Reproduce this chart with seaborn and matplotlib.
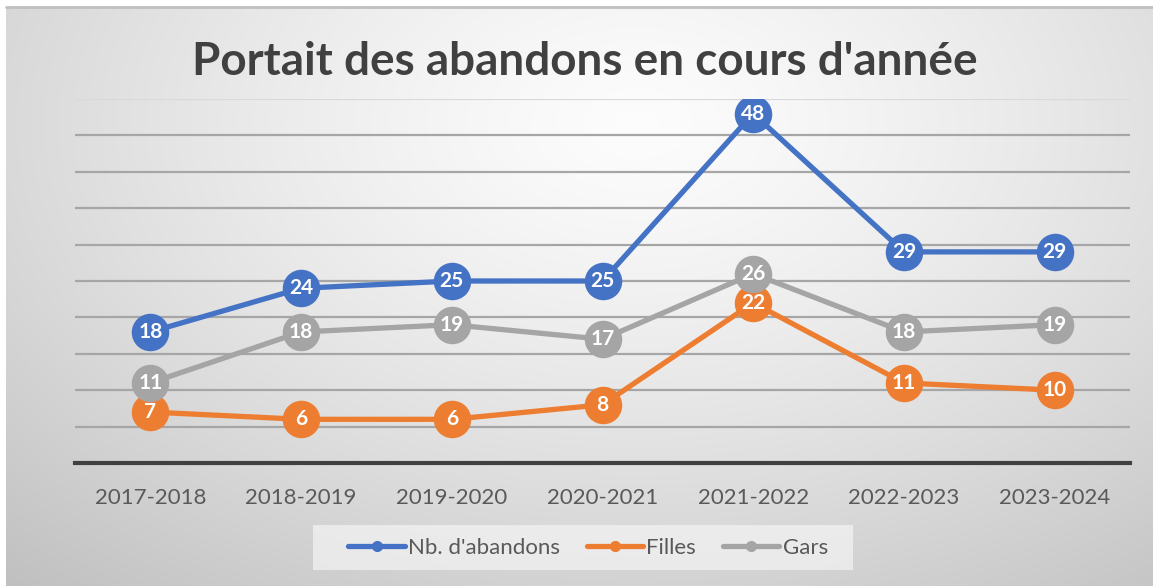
import numpy as np
import pandas as pd
import matplotlib
matplotlib.use("Agg")
import matplotlib.pyplot as plt
import seaborn as sns
from matplotlib.lines import Line2D
from matplotlib.patches import Rectangle

years = ["2017-2018", "2018-2019", "2019-2020", "2020-2021", "2021-2022", "2022-2023", "2023-2024"]
abandons = [18, 24, 25, 25, 48, 29, 29]
filles = [7, 6, 6, 8, 22, 11, 10]
gars = [11, 18, 19, 17, 26, 18, 19]
series_names = ["Nb. d'abandons", "Filles", "Gars"]
colors = ["#4472C4", "#ED7D31", "#A5A5A5"]
title = "Portait des abandons en cours d'année"

sns.set_theme(style="white")
plt.rcParams['font.family'] = ['Lato', 'DejaVu Sans']

df = pd.DataFrame({
    "year": years * 3,
    "x": list(range(len(years))) * 3,
    "value": abandons + filles + gars,
    "series": [series_names[0]] * 7 + [series_names[1]] * 7 + [series_names[2]] * 7,
})

W, H = 1153, 586
fig = plt.figure(figsize=(W / 100, H / 100), dpi=100)
fig.patch.set_facecolor("white")

# background radial gradient
bg = fig.add_axes([6 / W, 0, 1 - 6 / W, 1 - 7 / H])
bg.set_axis_off()
yy, xx = np.mgrid[0:300, 0:600]
cx, cy = 330, 60
r = np.sqrt(((xx - cx) / 600) ** 2 + ((yy - cy) / 380) ** 2)
val = 0.99 - 0.30 * np.clip(r, 0, 1) ** 1.3
img = np.dstack([val, val, val])
bg.imshow(img, aspect="auto", extent=[0, 1, 0, 1], origin="upper")
bg.set_xlim(0, 1)
bg.set_ylim(0, 1)
bg.plot([0, 1], [1, 1], color="#bfbfbf", lw=2, transform=bg.transAxes, clip_on=False)

ax = fig.add_axes([75 / W, 1 - 463 / H, (1130 - 75) / W, (463 - 99) / H])
ax.set_facecolor("none")

sns.lineplot(data=df, x="x", y="value", hue="series", palette=colors,
             hue_order=series_names, marker="o", markersize=27, linewidth=3.8,
             markeredgewidth=0, ax=ax, legend=False, zorder=3)

for name, vals in zip(series_names, [abandons, filles, gars]):
    for i, v in enumerate(vals):
        ax.text(i, v, str(v), ha="center", va="center", color="white",
                fontsize=15, fontweight="bold", zorder=5)

ax.set_xlim(-0.5, len(years) - 0.5)
ax.set_ylim(0, 50)
ax.set_yticks(np.arange(5, 46, 5))
ax.set_xticks(range(len(years)))
ax.set_xticklabels(years, fontsize=16, color="#595959")
ax.tick_params(axis="y", left=False, labelleft=False)
ax.tick_params(axis="x", bottom=False, pad=12)
ax.grid(axis="y", color="#a6a6a6", linewidth=1.6, zorder=0)
ax.grid(axis="x", visible=False)
ax.axhline(50, color="#d9d9d9", linewidth=1.6, zorder=0)
ax.set_axisbelow(True)
for s in ["top", "right", "left"]:
    ax.spines[s].set_visible(False)
ax.spines["bottom"].set_color("#404040")
ax.spines["bottom"].set_linewidth(3)
ax.set_xlabel("")
ax.set_ylabel("")

fig.text(585 / W, 1 - 62 / H, title, ha="center", va="center", fontsize=33,
         fontweight="bold", color="#404040")

# legend background box
fig.patches.append(Rectangle((313 / W, 1 - 570 / H), (853 - 313) / W, 45 / H,
                             transform=fig.transFigure, facecolor="#f4f4f4",
                             alpha=0.7, edgecolor="none", zorder=1))
handles = [Line2D([0], [0], color=c, lw=3.8, marker="o", markersize=7) for c in colors]
leg = fig.legend(handles, series_names, loc="center", bbox_to_anchor=(588 / W, 1 - 548 / H),
                 ncol=3, fontsize=16, frameon=False, handlelength=2.55, handletextpad=0.14,
                 columnspacing=1.2, borderpad=0, borderaxespad=0)
for t in leg.get_texts():
    t.set_color("#595959")

fig.savefig("out.png", dpi=100)
